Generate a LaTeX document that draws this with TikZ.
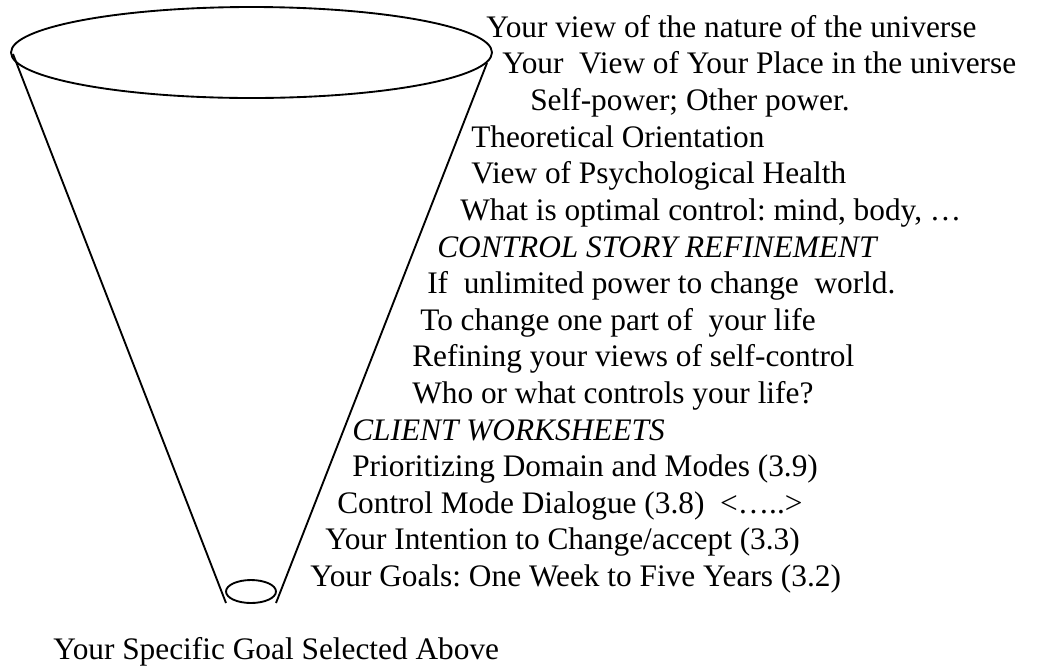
\documentclass[tikz,border=0pt]{standalone}
\usepackage{fontspec}
\setmainfont{Liberation Serif}
\begin{document}
\frenchspacing
\begin{tikzpicture}[x=0.75pt,y=-0.75pt,
  funnel/.style={line width=1.4pt},
  lbl/.style={anchor=base west,inner sep=0pt,font=\fontsize{23.5}{28}\selectfont},
  ilbl/.style={lbl,font=\fontsize{23.5}{28}\selectfont\itshape}]
\useasboundingbox (0,0) rectangle (1039,669);
% funnel: open top, two sides, small mouth at the bottom
\draw[funnel] (251.5,52.5) ellipse [x radius=240.5, y radius=45.5];
\coordinate (topL) at (13,54);
\coordinate (topR) at (487,63);
\coordinate (botL) at (226,603);
\coordinate (botR) at (276,603);
\draw[funnel] (topL) -- (botL);
\draw[funnel] (topR) -- (botR);
\draw[funnel] (251,591.5) ellipse [x radius=25, y radius=11.5];
% labels down the right side of the funnel
\node[lbl]  (t1)  at (486,37)  {Your view of the nature of the universe};
\node[lbl]  (t2)  at (502,73)  {Your~~View of Your Place in the universe};
\node[lbl]  (t3)  at (530,110) {Self-power; Other power.};
\node[lbl]  (t4)  at (471,147) {Theoretical Orientation};
\node[lbl]  (t5)  at (471,183) {View of Psychological Health};
\node[lbl]  (t6)  at (460,220) {What is optimal control: mind, body, …};
\node[ilbl] (t7)  at (437,257) {CONTROL STORY REFINEMENT};
\node[lbl]  (t8)  at (427,293) {If~~unlimited power to change~~world.};
\node[lbl]  (t9)  at (420,330) {To change one part of~~your life};
\node[lbl]  (t10) at (412,366) {Refining your views of self-control};
\node[lbl]  (t11) at (412,403) {Who or what controls your life?};
\node[ilbl] (t12) at (352,440) {CLIENT WORKSHEETS};
\node[lbl]  (t13) at (352,476) {Prioritizing Domain and Modes (3.9)};
\node[lbl]  (t14) at (337,513) {Control Mode Dialogue (3.8)~~<…..>};
\node[lbl]  (t15) at (325,549) {Your Intention to Change/accept (3.3)};
\node[lbl]  (t16) at (310,586) {Your Goals: One Week to Five Years (3.2)};
\node[lbl]  (t17) at (53,659)  {Your Specific Goal Selected Above};
\end{tikzpicture}
\end{document}
